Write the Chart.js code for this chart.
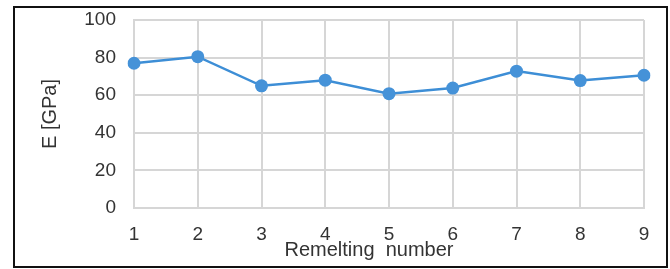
<!DOCTYPE html>
<html>
<head>
<meta charset="utf-8">
<script src="https://cdn.jsdelivr.net/npm/chart.js@4"></script>
<style>
  body { margin: 0; background: #fff; }
  #wrap { position: absolute; left: 0; top: 0; width: 670px; height: 269px; }
  #frame { position: absolute; left: 13px; top: 6px; width: 651px; height: 258px; border: 2px solid #111; }
</style>
</head>
<body>
<div id="wrap">
  <div id="frame"></div>
  <canvas id="chart" width="670" height="269"></canvas>
</div>
<script>
const remelts = ["1", "2", "3", "4", "5", "6", "7", "8", "9"];
const modulus = [77, 80.5, 65, 68, 60.8, 63.8, 72.8, 67.8, 70.6];
const yTicks = [0, 20, 40, 60, 80, 100];

const xTitle = "Remelting  number";
const yTitle = "E [GPa]";
const textColor = "#333333";
const gridColor = "#d6d6d6";
const fontFamily = "'Liberation Sans', Arial, sans-serif";

/* x-axis title sits a bit left of the plot centre in the original */
const xTitlePlugin = {
  id: "xTitle",
  afterDraw(chart) {
    const c = chart.ctx;
    const area = chart.chartArea;
    c.save();
    c.font = "20px " + fontFamily;
    c.fillStyle = textColor;
    c.textAlign = "center";
    c.textBaseline = "middle";
    c.fillText(xTitle, (area.left + area.right) / 2 - 20, 250);
    c.restore();
  }
};

const ctx = document.getElementById("chart");
new Chart(ctx, {
  type: "line",
  data: {
    labels: remelts,
    datasets: [{
      data: modulus,
      borderColor: "#3d8ed6",
      backgroundColor: "#4592d8",
      borderWidth: 2.5,
      pointRadius: 6.5,
      pointHoverRadius: 6.5,
      pointBorderWidth: 0,
      tension: 0
    }]
  },
  options: {
    responsive: false,
    animation: false,
    layout: { padding: { left: 38, right: 26, top: 20, bottom: 0 } },
    plugins: {
      legend: { display: false },
      tooltip: { enabled: false }
    },
    scales: {
      x: {
        offset: false,
        grid: { color: gridColor, lineWidth: 2, drawTicks: false },
        border: { color: gridColor, width: 2 },
        ticks: {
          color: textColor,
          font: { family: fontFamily, size: 19 },
          padding: 15,
          maxRotation: 0
        },
        afterFit(scale) { scale.height = 61; }
      },
      y: {
        min: 0,
        max: 100,
        afterBuildTicks(scale) { scale.ticks = yTicks.map(v => ({ value: v })); },
        grid: { color: gridColor, lineWidth: 2, drawTicks: false },
        border: { color: gridColor, width: 2 },
        ticks: {
          color: textColor,
          font: { family: fontFamily, size: 19 },
          padding: 18
        },
        title: {
          display: true,
          text: yTitle,
          color: textColor,
          font: { family: fontFamily, size: 20 },
          padding: { top: 0, bottom: 8 }
        },
        afterFit(scale) {
          scale.width = 96;
          scale.paddingTop = 0;
          scale.paddingBottom = 0;
        }
      }
    }
  },
  plugins: [xTitlePlugin]
});
</script>
</body>
</html>
